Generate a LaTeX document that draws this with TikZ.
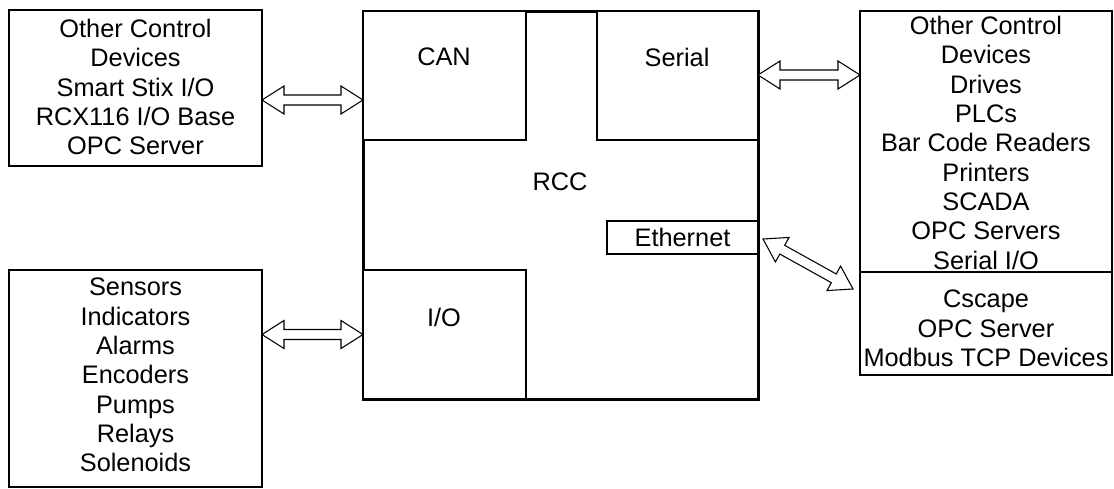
\documentclass[tikz,border=0pt]{standalone}
\usepackage{fontspec}
\setmainfont{Liberation Sans}
\usetikzlibrary{calc}
\tikzset{
  box/.style={draw, line width=0.8pt, inner sep=0pt, outer sep=0pt, fill=white},
  rccbox/.style={draw, line width=2.25pt, inner sep=0pt, outer sep=0pt},
  txt/.style={align=center, inner sep=0pt, outer sep=0pt, font=\fontsize{19}{22}\selectfont},
  arr/.style={draw, line width=0.8pt, fill=white, line join=miter},
}
\newcommand\pxbox[6]{%
  \node[#6, anchor=north west, minimum width={(#4-#2)*0.75pt}, minimum height={(#5-#3)*0.75pt}] (#1) at (#2,#3) {};}
\newcommand\dblarrow[2]{%
  \coordinate (da1) at ($(#1)!16.5pt!(#2)$);
  \coordinate (da2) at ($(#2)!16.5pt!(#1)$);
  \draw[arr] (#1) -- ($(da1)!10.5pt!90:(#2)$) -- ($(da1)!3.75pt!90:(#2)$)
    -- ($(da2)!3.75pt!-90:(#1)$) -- ($(da2)!10.5pt!-90:(#1)$) -- (#2)
    -- ($(da2)!10.5pt!90:(#1)$) -- ($(da2)!3.75pt!90:(#1)$)
    -- ($(da1)!3.75pt!-90:(#2)$) -- ($(da1)!10.5pt!-90:(#2)$) -- cycle;}
\begin{document}
\begin{tikzpicture}[x=0.75pt,y=-0.75pt]
\useasboundingbox (0,0) rectangle (1114,489);
% outer boxes
\pxbox{tl}{9}{10}{262}{166}{box}
\pxbox{bl}{9}{270}{262}{487}{box}
\pxbox{rt}{860}{11}{1112}{272}{box}
\pxbox{rb}{860}{272}{1112}{375}{box}
% RCC
\pxbox{rcc}{363}{11}{758}{399}{rccbox}
\pxbox{can}{363}{11}{526}{140}{box}
\pxbox{ser}{597}{11}{758}{140}{box}
\pxbox{io}{363}{270}{526}{399}{box}
\pxbox{eth}{607}{221}{758}{254}{box}
% labels
\node[txt] (canl) at (444,57) {CAN};
\node[txt] (serl) at (677,57) {Serial};
\node[txt] (rccl) at (560,182) {RCC};
\node[txt] (iol) at (444,317) {I/O};
\node[txt] (ethl) at (eth.center) {Ethernet};
\node[txt, anchor=north] (tlt) at (135.5,19) {Other Control\\Devices\\Smart Stix I/O\\RCX116 I/O Base\\OPC Server};
\node[txt, anchor=north] (blt) at (135.5,278) {Sensors\\Indicators\\Alarms\\Encoders\\Pumps\\Relays\\Solenoids};
\node[txt, anchor=north] (rtt) at (986,16) {Other Control\\Devices\\Drives\\PLCs\\Bar Code Readers\\Printers\\SCADA\\OPC Servers\\Serial I/O};
\node[txt, anchor=north] (rbt) at (986,290) {Cscape\\OPC Server\\Modbus TCP Devices};
% arrows
\coordinate (a1s) at ($(tl.north east)+(0,90)$);
\coordinate (a1e) at ($(rcc.north west)+(0,89)$);
\dblarrow{a1s}{a1e}
\coordinate (a2s) at ($(rcc.north east)+(0,64)$);
\coordinate (a2e) at ($(rt.north west)+(0,64)$);
\dblarrow{a2s}{a2e}
\coordinate (a3s) at (bl.east |- io.west);
\dblarrow{a3s}{io.west}
\coordinate (a4s) at ($(eth.east)+(5,1.5)$);
\coordinate (a4e) at ($(rb.north west)+(-7,17)$);
\dblarrow{a4s}{a4e}
\end{tikzpicture}
\end{document}
